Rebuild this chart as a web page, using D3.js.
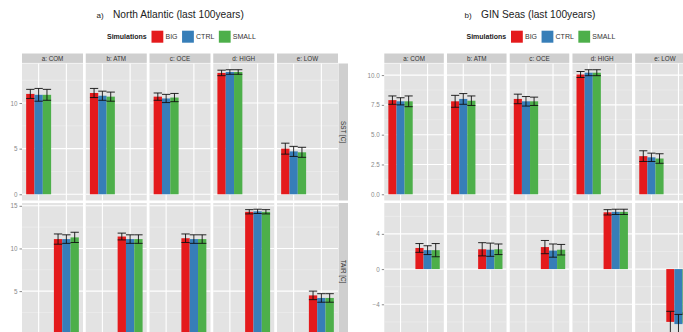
<!DOCTYPE html>
<html>
<head>
<meta charset="utf-8">
<script src="https://cdn.jsdelivr.net/npm/d3@7"></script>
<style>
  body { margin: 0; background: #fff; }
  text { font-family: "Liberation Sans", Arial, sans-serif; }
</style>
</head>
<body>
<svg id="chart" width="683" height="332"></svg>
<script>
  const experiments = ["a: COM", "b: ATM", "c: OCE", "d: HIGH", "e: LOW"];
  const simulations = ["BIG", "CTRL", "SMALL"];
  const variables = ["SST [C]", "TAIR [C]"];

  // rows = experiments, columns = BIG, CTRL, SMALL
  const naSst = [[11.0, 10.9, 10.9], [11.1, 10.8, 10.7], [10.7, 10.5, 10.6], [13.3, 13.4, 13.4], [5.0, 4.7, 4.6]];
  const naSstErr = [[0.5, 0.7, 0.6], [0.5, 0.5, 0.5], [0.4, 0.45, 0.45], [0.3, 0.25, 0.25], [0.6, 0.55, 0.55]];
  const naTair = [[11.1, 11.1, 11.3], [11.4, 11.1, 11.1], [11.2, 11.1, 11.1], [14.3, 14.35, 14.3], [4.5, 4.2, 4.2]];
  const naTairErr = [[0.6, 0.5, 0.6], [0.4, 0.5, 0.5], [0.5, 0.5, 0.5], [0.25, 0.25, 0.25], [0.5, 0.5, 0.5]];

  const ginSst = [[7.9, 7.8, 7.8], [7.8, 8.0, 7.85], [8.0, 7.8, 7.8], [10.05, 10.2, 10.2], [3.2, 3.1, 3.0]];
  const ginSstErr = [[0.35, 0.3, 0.45], [0.5, 0.45, 0.4], [0.4, 0.4, 0.35], [0.25, 0.25, 0.25], [0.45, 0.35, 0.4]];
  const ginTair = [[2.4, 2.15, 2.15], [2.25, 2.2, 2.25], [2.5, 2.1, 2.2], [6.45, 6.5, 6.5], [-6.0, -6.25, -6.1]];
  const ginTairErr = [[0.5, 0.5, 0.75], [0.75, 0.75, 0.6], [0.75, 0.75, 0.6], [0.3, 0.3, 0.3], [1.2, 1.1, 1.1]];

  const naSstTicks = [0, 5, 10];
  const naTairTicks = [5, 10, 15];
  const ginSstTicks = [0, 2.5, 5, 7.5, 10];
  const ginTairTicks = [-4, 0, 4];

  const svg = d3.select("#chart");
  const color = d3.scaleOrdinal().domain(simulations).range(["#E41A1C", "#377EB8", "#4DAF4A"]);

  const rowTop = [63.5, 203];
  const rowH = 137;

  function makeY(mean, err, top) {
    const lows = mean.flatMap((r, i) => r.map((m, j) => Math.min(0, m - err[i][j])));
    const highs = mean.flatMap((r, i) => r.map((m, j) => Math.max(0, m + err[i][j])));
    const lo = d3.min(lows), hi = d3.max(highs);
    const pad = (hi - lo) * 0.05;
    return d3.scaleLinear().domain([lo - pad, hi + pad]).range([top + rowH, top]);
  }

  function minorTicks(ticks, domain) {
    const step = ticks[1] - ticks[0];
    const out = [];
    for (let v = ticks[0] - step * 1.5; v <= ticks[ticks.length - 1] + step; v += step) {
      if (v > domain[0] && v < domain[1]) out.push(v);
    }
    return out;
  }

  function drawFigure(cfg) {
    const g = svg.append("g");
    const fx = d3.scaleBand().domain(experiments).range([cfg.left, cfg.right]).paddingInner(cfg.gap);
    const px = d3.scalePoint().domain(variables).range([0, fx.bandwidth()]).padding(0.6);
    const step = px.step();
    const dx = d3.scaleBand().domain(simulations).range([-0.45 * step, 0.45 * step]);

    cfg.rows.forEach((row, r) => {
      const top = rowTop[r];
      const y = makeY(row.mean, row.err, top);
      const dom = y.domain();

      g.append("g")
        .attr("transform", `translate(${cfg.left},0)`)
        .call(d3.axisLeft(y).tickValues(row.ticks).tickSize(2.5).tickPadding(2).tickFormat(row.fmt))
        .call(a => a.select(".domain").remove())
        .call(a => a.selectAll("line").attr("stroke", "#8a8a8a"))
        .call(a => a.selectAll("text").attr("fill", "#8a8a8a").style("font-size", "6.3px")
          .style("font-family", "Liberation Sans, Arial, sans-serif"));

      experiments.forEach((exp, e) => {
        const cell = g.append("g").attr("transform", `translate(${fx(exp)},0)`);
        cell.append("rect")
          .attr("x", 0).attr("y", top)
          .attr("width", fx.bandwidth()).attr("height", rowH)
          .attr("fill", "#E3E3E3");

        cell.selectAll(".minor")
          .data(minorTicks(row.ticks, dom))
          .enter().append("line")
            .attr("x1", 0).attr("x2", fx.bandwidth())
            .attr("y1", d => y(d)).attr("y2", d => y(d))
            .attr("stroke", "#F0F0F0").attr("stroke-width", 0.6);

        const majors = row.ticks.concat([row.ticks[0] - (row.ticks[1] - row.ticks[0])]);
        cell.selectAll(".major")
          .data(majors.filter(t => t > dom[0] && t < dom[1]))
          .enter().append("line")
            .attr("x1", 0).attr("x2", fx.bandwidth())
            .attr("y1", d => y(d)).attr("y2", d => y(d))
            .attr("stroke", "#fff").attr("stroke-width", 1.1);

        cell.selectAll(".vgrid")
          .data(variables)
          .enter().append("line")
            .attr("x1", d => px(d)).attr("x2", d => px(d))
            .attr("y1", top).attr("y2", top + rowH)
            .attr("stroke", "#fff").attr("stroke-width", 1.1);

        const cx = px(variables[r]);
        const recs = simulations.map((s, k) => ({ s, m: row.mean[e][k], err: row.err[e][k] }));

        cell.selectAll(".bar")
          .data(recs)
          .enter().append("rect")
            .attr("x", d => cx + dx(d.s))
            .attr("y", d => y(Math.max(0, d.m)))
            .attr("width", dx.bandwidth())
            .attr("height", d => Math.abs(y(d.m) - y(0)))
            .attr("fill", d => color(d.s));

        const eb = cell.selectAll(".err")
          .data(recs)
          .enter().append("g")
            .attr("stroke", "#111").attr("stroke-width", 0.9);
        const cap = dx.bandwidth() * 0.5;
        const mid = d => cx + dx(d.s) + dx.bandwidth() / 2;
        eb.append("line")
          .attr("x1", mid).attr("x2", mid)
          .attr("y1", d => y(d.m - d.err)).attr("y2", d => y(d.m + d.err));
        eb.append("line")
          .attr("x1", d => mid(d) - cap).attr("x2", d => mid(d) + cap)
          .attr("y1", d => y(d.m + d.err)).attr("y2", d => y(d.m + d.err));
        eb.append("line")
          .attr("x1", d => mid(d) - cap).attr("x2", d => mid(d) + cap)
          .attr("y1", d => y(d.m - d.err)).attr("y2", d => y(d.m - d.err));
      });

      // right-hand strip with the variable name (only when it is inside the picture)
      if (cfg.rightStrip) {
        g.append("rect")
          .attr("x", cfg.right + 0.5).attr("y", top)
          .attr("width", 9.5).attr("height", rowH)
          .attr("fill", "#CFCFCF");
        g.append("text")
          .attr("transform", `translate(${cfg.right + 3.2},${top + rowH / 2}) rotate(90)`)
          .attr("text-anchor", "middle")
          .attr("fill", "#333")
          .style("font-size", "6.3px")
          .text(variables[r]);
      }
    });

    // facet strips
    experiments.forEach(exp => {
      g.append("rect")
        .attr("x", fx(exp)).attr("y", 53.5)
        .attr("width", fx.bandwidth()).attr("height", 9.4)
        .attr("fill", "#CFCFCF");
      g.append("text")
        .attr("x", fx(exp) + fx.bandwidth() / 2).attr("y", 60.6)
        .attr("text-anchor", "middle")
        .attr("fill", "#333")
        .style("font-size", "6.3px")
        .text(exp);
    });

    // title
    g.append("text")
      .attr("x", cfg.titleX).attr("y", 18)
      .attr("fill", "#222").style("font-size", "8px")
      .text(cfg.tag);
    g.append("text")
      .attr("x", cfg.titleX + 16.5).attr("y", 18)
      .attr("fill", "#222").style("font-size", "10.2px")
      .text(cfg.title);

    // legend
    const lg = g.append("g").attr("transform", `translate(${cfg.legendX},0)`);
    lg.append("text")
      .attr("x", 0).attr("y", 39)
      .attr("fill", "#222").style("font-size", "7px").style("font-weight", "bold")
      .text("Simulations");
    let cur = 44.5;
    simulations.forEach(s => {
      lg.append("rect")
        .attr("x", cur).attr("y", 30.7)
        .attr("width", 11.8).attr("height", 12)
        .attr("fill", color(s));
      const t = lg.append("text")
        .attr("x", cur + 14).attr("y", 39.2)
        .attr("fill", "#333").style("font-size", "7px")
        .text(s);
      cur += 14 + t.node().getComputedTextLength() + 4.5;
    });
  }

  drawFigure({
    left: 22, right: 338, gap: 0.043, rightStrip: true,
    tag: "a)", title: "North Atlantic (last 100years)", titleX: 96.5, legendX: 107,
    rows: [
      { mean: naSst, err: naSstErr, ticks: naSstTicks, fmt: d3.format("d") },
      { mean: naTair, err: naTairErr, ticks: naTairTicks, fmt: d3.format("d") }
    ]
  });

  drawFigure({
    left: 384.3, right: 694.7, gap: 0.051, rightStrip: false,
    tag: "b)", title: "GIN Seas (last 100years)", titleX: 464.5, legendX: 466.5,
    rows: [
      { mean: ginSst, err: ginSstErr, ticks: ginSstTicks, fmt: d3.format(".1f") },
      { mean: ginTair, err: ginTairErr, ticks: ginTairTicks, fmt: d3.format("d") }
    ]
  });
</script>
</body>
</html>
